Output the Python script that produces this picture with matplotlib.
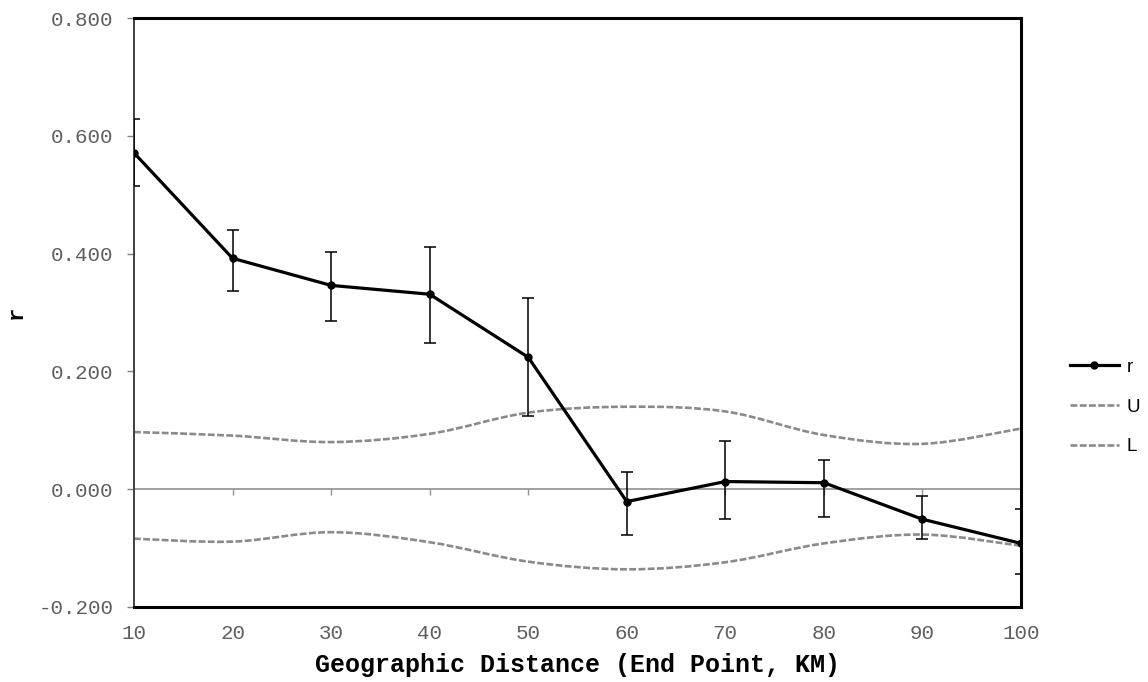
import matplotlib
matplotlib.use("Agg")
import matplotlib.pyplot as plt
from matplotlib.lines import Line2D
from matplotlib.path import Path
from matplotlib.patches import PathPatch
from matplotlib.ticker import FormatStrFormatter
import numpy as np

distance = [10, 20, 30, 40, 50, 60, 70, 80, 90, 100]
r_values = [0.571, 0.392, 0.346, 0.331, 0.224, -0.021, 0.013, 0.011, -0.051, -0.092]
r_err_up = [0.058, 0.048, 0.057, 0.081, 0.100, 0.051, 0.068, 0.039, 0.039, 0.058]
r_err_down = [0.057, 0.056, 0.060, 0.082, 0.100, 0.057, 0.064, 0.059, 0.034, 0.052]
u_values = [0.097, 0.091, 0.080, 0.094, 0.130, 0.140, 0.132, 0.092, 0.077, 0.103]
l_values = [-0.084, -0.089, -0.073, -0.090, -0.123, -0.136, -0.124, -0.092, -0.077, -0.096]
y_ticks = [-0.2, 0.0, 0.2, 0.4, 0.6, 0.8]

plt.rcParams["axes.unicode_minus"] = False
MONO = "Liberation Mono"
GRAY_TEXT = "#5f5f5f"
DASH_COLOR = "#8a8a8a"


def smooth_path(xs, ys):
    # Excel-style smoothed line: Catmull-Rom converted to cubic Bezier segments
    pts = np.column_stack([xs, ys]).astype(float)
    n = len(pts)
    verts = [pts[0]]
    codes = [Path.MOVETO]
    for i in range(n - 1):
        p0 = pts[max(i - 1, 0)]
        p1 = pts[i]
        p2 = pts[i + 1]
        p3 = pts[min(i + 2, n - 1)]
        c1 = p1 + (p2 - p0) / 6.0
        c2 = p2 - (p3 - p1) / 6.0
        verts += [c1, c2, p2]
        codes += [Path.CURVE4] * 3
    return Path(verts, codes)


fig = plt.figure(figsize=(11.48, 6.82), dpi=100)
ax = fig.add_axes([134 / 1148, 1 - 607 / 682, (1021 - 134) / 1148, (607 - 18) / 682])

dash_style = dict(color=DASH_COLOR, linewidth=1.9, linestyle=(0, (2.6, 0.9)))
for series in (u_values, l_values):
    patch = PathPatch(smooth_path(distance, series), fill=False, zorder=2, **dash_style)
    ax.add_patch(patch)

ax.errorbar(
    distance, r_values, yerr=[r_err_down, r_err_up],
    color="black", linewidth=2.3, marker="o", markersize=5,
    ecolor="black", elinewidth=1.1, capsize=4, capthick=1.1, zorder=3,
)

ax.set_xlim(10, 100)
ax.set_ylim(-0.2, 0.8)
ax.set_xticks(distance)
ax.set_yticks(y_ticks)
ax.yaxis.set_major_formatter(FormatStrFormatter("%.3f"))

ax.tick_params(axis="x", length=0, pad=12, labelsize=15, labelcolor=GRAY_TEXT)
ax.tick_params(axis="y", direction="out", length=5, width=1, color="#808080",
               pad=10, labelsize=15, labelcolor=GRAY_TEXT)
for lab in ax.get_xticklabels() + ax.get_yticklabels():
    lab.set_fontfamily(MONO)

for side in ("top", "right", "bottom"):
    ax.spines[side].set_linewidth(2.2)
    ax.spines[side].set_color("black")
ax.spines["left"].set_linewidth(1.4)
ax.spines["left"].set_color("#404040")

# zero line with small tick marks (category axis crosses at 0)
zero_axis = ax.secondary_xaxis(0.2)
zero_axis.set_xticks(distance[1:-1])
zero_axis.tick_params(direction="out", length=4, width=1, color="#909090", labelbottom=False)
zero_axis.spines["bottom"].set_color("#909090")
zero_axis.spines["bottom"].set_linewidth(1.2)

ax.set_xlabel("Geographic Distance (End Point, KM)", fontfamily=MONO, fontweight="bold",
              fontsize=18, color="black")
ax.xaxis.set_label_coords(0.5, -0.078)
ax.set_ylabel("r", fontfamily=MONO, fontweight="bold", fontsize=16, color="black")
ax.yaxis.set_label_coords(-0.121, 0.5)

handles = [
    Line2D([], [], color="black", linewidth=2.3, marker="o", markersize=5),
    Line2D([], [], **dash_style),
    Line2D([], [], **dash_style),
]
fig.legend(
    handles, ["r", "U", "L"], loc="center left", bbox_to_anchor=(1070 / 1148, 1 - 407 / 682),
    frameon=False, borderpad=0, borderaxespad=0, handlelength=2.6, handletextpad=0.4,
    labelspacing=1.2, prop={"family": "Liberation Sans", "size": 13.5},
)

fig.savefig("out.png", dpi=100)
